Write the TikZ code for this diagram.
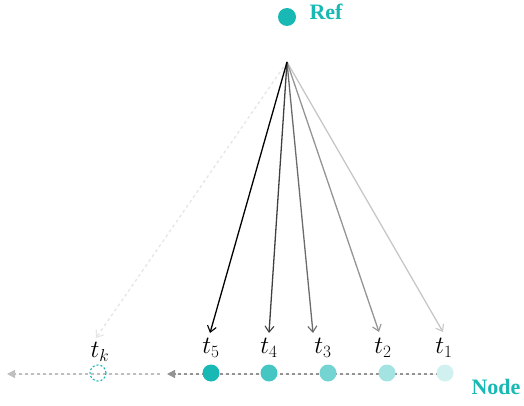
\documentclass[tikz,border=0pt]{standalone}
\usepackage{fontspec}
\setmainfont{Liberation Serif}
\usetikzlibrary{arrows.meta}
\definecolor{tealc}{RGB}{24,184,180}
\begin{document}
\begin{tikzpicture}[x=1pt,y=-1pt,
  dot/.style={circle,inner sep=0pt,minimum size=17pt},
  lab/.style={font=\fontsize{25}{30}\selectfont,inner sep=0pt},
  ttl/.style={font=\fontsize{22}{26}\selectfont\bfseries,text=tealc,inner sep=0pt},
  ray/.style={line width=1.3pt,-{Straight Barb[length=6pt,width=9pt,line width=1.1pt]}},
  tl/.style={dash pattern=on 3pt off 3pt,line width=1.2pt,-{Triangle[length=8pt,width=8pt]}}
]
\useasboundingbox (0,0) rectangle (524,406);
% ref
\node[dot,fill=tealc,minimum size=18pt] (ref) at (287,17) {};
\node[ttl] (reft) at (326,12) {Ref};
\coordinate (src) at (287,62);
% timeline
\coordinate (a1) at (445,374);
\coordinate (a2) at (167,374);
\coordinate (b1) at (160,374);
\coordinate (b2) at (7,374);
\draw[tl,draw=gray!85,fill=gray!85] (a1) -- (a2);
\draw[tl,draw=gray!50,fill=gray!50] (b1) -- (b2);
% nodes
\node[dot,fill=tealc] (n5) at (211,373) {};
\node[dot,fill=tealc!80] (n4) at (269,373) {};
\node[dot,fill=tealc!60] (n3) at (328,373) {};
\node[dot,fill=tealc!40] (n2) at (387,373) {};
\node[dot,fill=tealc!20] (n1) at (445,373) {};
\node[dot,minimum size=16pt,draw=tealc,line width=1.1pt,dash pattern=on 2pt off 2pt] (nk) at (98,373) {};
\node[ttl] (nodet) at (496,387) {Node};
% labels
\node[lab] (l5) at (211,348) {$t_5$};
\node[lab] (l4) at (269,348) {$t_4$};
\node[lab] (l3) at (323,348) {$t_3$};
\node[lab] (l2) at (383,348) {$t_2$};
\node[lab] (l1) at (444,348) {$t_1$};
\node[lab] (lk) at (100,352) {$t_k$};
% arrow ends
\coordinate (e5) at (210,333);
\coordinate (e4) at (269,333);
\coordinate (e3) at (313,333);
\coordinate (e2) at (379,332);
\coordinate (e1) at (443,332);
\coordinate (ek) at (96,338);
\draw[ray,draw=black!10,dash pattern=on 3pt off 3pt] (src) -- (ek);
\draw[ray,draw=black!22] (src) -- (e1);
\draw[ray,draw=black!42] (src) -- (e2);
\draw[ray,draw=black!58] (src) -- (e3);
\draw[ray,draw=black!75] (src) -- (e4);
\draw[ray,draw=black] (src) -- (e5);
\end{tikzpicture}
\end{document}
